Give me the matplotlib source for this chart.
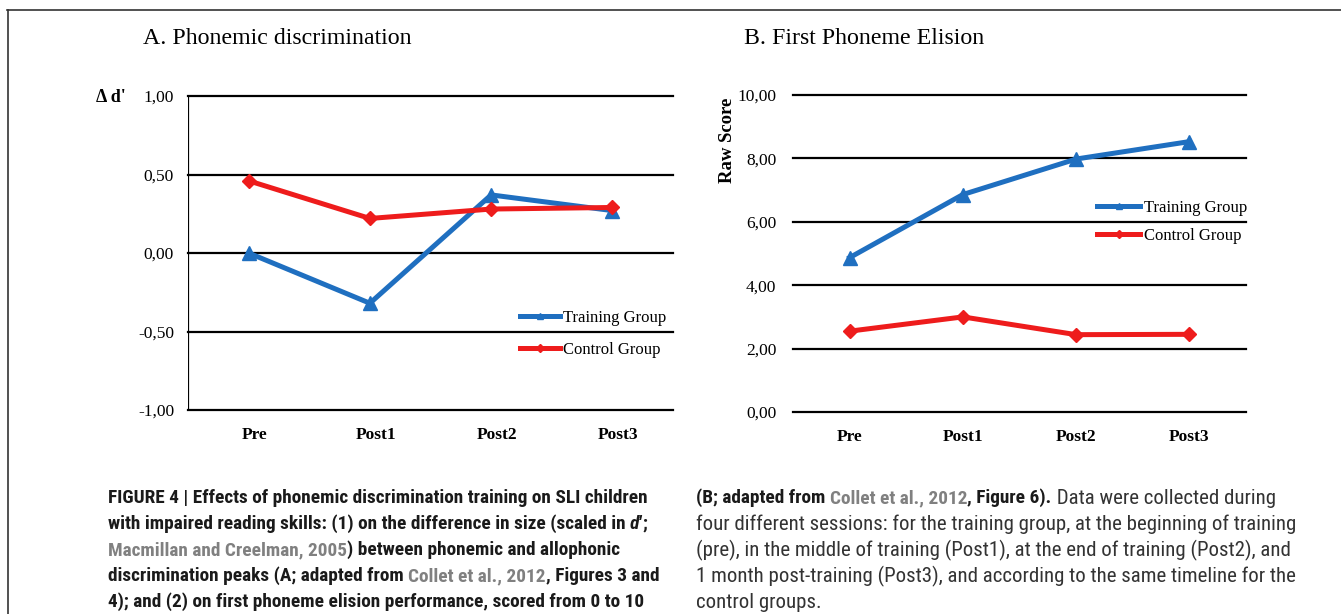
import os
import matplotlib
matplotlib.use("Agg")
import matplotlib.pyplot as plt
from matplotlib.lines import Line2D
from matplotlib import font_manager
from matplotlib.font_manager import FontProperties
from matplotlib.transforms import ScaledTranslation

SERIF = "Liberation Serif"
BLUE = "#1f6fc0"
RED = "#ee1c1c"
GREY = "#808080"

sessions = ["Pre", "Post1", "Post2", "Post3"]

# panel A: delta d'
a_training = [0.00, -0.32, 0.37, 0.27]
a_control = [0.46, 0.22, 0.28, 0.29]
a_ticks = [-1.0, -0.5, 0.0, 0.5, 1.0]
a_ticklabels = ["-1,00", "-0,50", "0,00", "0,50", "1,00"]

# panel B: raw score
b_training = [4.87, 6.86, 7.98, 8.53]
b_control = [2.55, 3.00, 2.44, 2.45]
b_ticks = [0, 2, 4, 6, 8, 10]
b_ticklabels = ["0,00", "2,00", "4,00", "6,00", "8,00", "10,00"]

W, H = 1341, 614
fig = plt.figure(figsize=(W / 100, H / 100), dpi=100, facecolor="white")


def px(x, y):
    return x / W, 1 - y / H


def style_axes(ax, ticks, labels, ylim, pad):
    ax.set_xlim(-0.5, 3.5)
    ax.set_ylim(*ylim)
    ax.set_yticks(ticks)
    ax.set_yticklabels(labels, fontfamily=SERIF, fontsize=12.5)
    ax.set_xticks(range(4))
    ax.set_xticklabels(sessions, fontfamily=SERIF, fontsize=12.5, fontweight="bold")
    ax.tick_params(length=0, axis="y", pad=pad)
    ax.tick_params(length=0, axis="x", pad=12)
    for s in ax.spines.values():
        s.set_visible(False)
    for t in ticks:
        ax.axhline(t, color="black", lw=1.6, zorder=1, clip_on=False)


def plot_series(ax, tr, ct):
    ax.plot(range(4), tr, color=BLUE, lw=3.6, marker="^", ms=10, zorder=3, clip_on=False)
    ax.plot(range(4), ct, color=RED, lw=3.6, marker="D", ms=7.5, zorder=4, clip_on=False)


def legend(ax, anchor, spacing, hlen):
    handles = [Line2D([], [], color=BLUE, lw=3.6, marker="^", ms=5),
               Line2D([], [], color=RED, lw=3.6, marker="D", ms=4)]
    ax.legend(handles, ["Training Group", "Control Group"], loc="upper left",
              bbox_to_anchor=anchor, bbox_transform=fig.transFigure, frameon=False,
              prop={"family": SERIF, "size": 12}, handlelength=hlen, handletextpad=0.2,
              labelspacing=spacing, borderpad=0, borderaxespad=0)


# ── panel A ──
l, b = px(188, 410)
r, t = px(673, 96)
axA = fig.add_axes([l, b, r - l, t - b])
style_axes(axA, a_ticks, a_ticklabels, (-1, 1), 10)
axA.axvline(-0.5, color="black", lw=1.6, zorder=1)
# category labels sit a little right of the points in this panel
shift = ScaledTranslation(6 / 100, 0, fig.dpi_scale_trans)
for lab in axA.get_xticklabels():
    lab.set_transform(lab.get_transform() + shift)
plot_series(axA, a_training, a_control)
legend(axA, px(520, 310), 0.95, 2.4)
fig.text(*px(143, 38), "A. Phonemic discrimination", fontfamily=SERIF, fontsize=17.2,
         va="center", ha="left")
fig.text(*px(96, 97), "\u0394 d'", fontfamily=SERIF, fontsize=13, fontweight="bold",
         va="center", ha="left")

# ── panel B ──
l, b = px(793, 412)
r, t = px(1246, 95)
axB = fig.add_axes([l, b, r - l, t - b])
style_axes(axB, b_ticks, b_ticklabels, (0, 10), 12)
plot_series(axB, b_training, b_control)
legend(axB, px(1097, 200), 0.7, 2.6)
fig.text(*px(744, 38), "B. First Phoneme Elision", fontfamily=SERIF, fontsize=17.2,
         va="center", ha="left")
fig.text(*px(727, 140), "Raw Score", fontfamily=SERIF, fontsize=13.5, fontweight="bold",
         rotation=90, va="center", ha="center")

# ── frame ──
fig.add_artist(Line2D([7 / W, 1], [1 - 9.5 / H] * 2, color="#333333", lw=1.2))
fig.add_artist(Line2D([8 / W] * 2, [1 - 9.5 / H, 0], color="#333333", lw=1.2))

# ── caption font: a narrow sans if one is installed ──
files = {os.path.basename(f.fname): f.fname for f in font_manager.fontManager.ttflist}
choices = [
    ("LiberationSansNarrow-Regular.ttf", "LiberationSansNarrow-Bold.ttf", "LiberationSansNarrow-BoldItalic.ttf"),
    ("RobotoCondensed-Regular.ttf", "RobotoCondensed-Bold.ttf", "RobotoCondensed-BoldItalic.ttf"),
    ("NotoSans-Condensed.ttf", "NotoSans-CondensedBold.ttf", "NotoSans-CondensedBoldItalic.ttf"),
    ("DejaVuSansCondensed.ttf", "DejaVuSansCondensed-Bold.ttf", "DejaVuSansCondensed-BoldOblique.ttf"),
]
cap_files = None
for trio in choices:
    if trio[0] in files and trio[1] in files:
        cap_files = [files.get(n, files[trio[1]]) for n in trio]
        break


def cap_font(kind, size):
    if cap_files:
        return FontProperties(fname=cap_files[kind], size=size)
    return FontProperties(family="DejaVu Sans", size=size,
                          weight="normal" if kind == 0 else "bold",
                          style="italic" if kind == 2 else "normal")


renderer = fig.canvas.get_renderer()


def width_of(text, kind, size):
    tx = fig.text(0, 0, text, fontproperties=cap_font(kind, size))
    w = tx.get_window_extent(renderer).width
    tx.remove()
    return w


K = "#1a1a1a"
D = "#333333"
left_lines = [
    [("FIGURE 4 | Effects of phonemic discrimination training on SLI children", K, 1)],
    [("with impaired reading skills: (1) on the difference in size (scaled in ", K, 1),
     ("d\u2032", K, 2), (";", K, 1)],
    [("Macmillan and Creelman, 2005", GREY, 1),
     (") between phonemic and allophonic", K, 1)],
    [("discrimination peaks (A; adapted from ", K, 1),
     ("Collet et al., 2012", GREY, 1),
     (", Figures 3 and", K, 1)],
    [("4); and (2) on first phoneme elision performance, scored from 0 to 10", K, 1)],
]
right_lines = [
    [("(B; adapted from ", K, 1), ("Collet et al., 2012", GREY, 1),
     (", Figure 6).", K, 1), (" Data were collected during", D, 0)],
    [("four different sessions: for the training group, at the beginning of training", D, 0)],
    [("(pre), in the middle of training (Post1), at the end of training (Post2), and", D, 0)],
    [("1 month post-training (Post3), and according to the same timeline for the", D, 0)],
    [("control groups.", D, 0)],
]

size_bold = 10 * 540 / width_of(left_lines[0][0][0], 1, 10)
size_reg = 10 * 596 / width_of(right_lines[1][0][0], 0, 10)


def runs(x, y, parts):
    x = x / W
    y = 1 - y / H
    for text, color, kind in parts:
        size = size_reg if kind == 0 else size_bold
        tx = fig.text(x, y, text, fontproperties=cap_font(kind, size), color=color,
                      va="center", ha="left")
        x += tx.get_window_extent(renderer).width / W


for i, parts in enumerate(left_lines):
    runs(108, 498 + 26 * i, parts)
for i, parts in enumerate(right_lines):
    runs(696, 498 + 26 * i, parts)

fig.savefig("out.png", dpi=100, facecolor="white")
